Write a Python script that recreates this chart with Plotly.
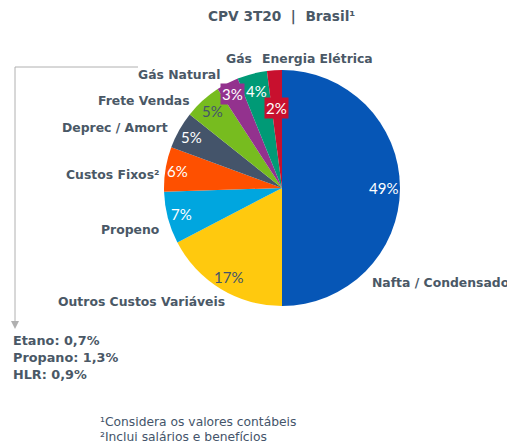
import math
import plotly.graph_objects as go

# ---- data ----
categories = ["Nafta / Condensado", "Outros Custos Variáveis", "Propeno", "Custos Fixos²",
              "Deprec / Amort", "Frete Vendas", "Gás Natural", "Gás", "Energia Elétrica"]
values = [49, 17, 7, 6, 5, 5, 3, 4, 2]
pct_labels = ["49%", "17%", "7%", "6%", "5%", "5%", "3%", "4%", "2%"]
side_notes = ["Etano: 0,7%", "Propano: 1,3%", "HLR: 0,9%"]
footnotes = ["¹Considera os valores contábeis", "²Inclui salários e benefícios"]

# ---- style ----
PAGE_W, PAGE_H = 515, 447
OFF = 8  # page body margin
W, H = PAGE_W - OFF, PAGE_H - OFF
colors = ["#0656b6", "#ffc90e", "#00a6df", "#fe5000", "#44546a",
          "#77bc1f", "#93328e", "#009a76", "#c8102e"]
pct_font_colors = ["white", "#44546a", "white", "white", "white", "#44546a", "white", "white", "white"]
pct_bg = [None, None, None, None, None, None, "#93328e", None, "#c8102e"]
pct_radius = [0.86, 0.88, 0.88, 0.90, 0.88, 0.88, 0.90, 0.85, 0.68]
txt = "#4a5866"
cx, cy, R = 282, 188, 118

def px(x):
    return (x - OFF) / W

def py(y):
    return 1 - (y - OFF) / H

fig = go.Figure(go.Pie(
    labels=categories, values=values, sort=False, direction="clockwise", rotation=0,
    marker=dict(colors=colors, line=dict(width=0)),
    textinfo="none", hoverinfo="label+percent", showlegend=False,
    domain=dict(x=[px(cx - R), px(cx + R)], y=[py(cy + R), py(cy - R)]),
))

annotations = []
# percentage labels placed from the data's cumulative angles
total = sum(values)
cum = 0
for v, lab, fc, bg, rf in zip(values, pct_labels, pct_font_colors, pct_bg, pct_radius):
    mid = (cum + v / 2) / total * 2 * math.pi
    cum += v
    x = cx + rf * R * math.sin(mid)
    y = cy - rf * R * math.cos(mid)
    a = dict(x=px(x), y=py(y), xref="paper", yref="paper", text=lab, showarrow=False,
             font=dict(family="Lato", size=15, color=fc), xanchor="center", yanchor="middle")
    if bg:
        a.update(bgcolor=bg, borderpad=1)
    annotations.append(a)

# category labels (x, y, anchor)
cat_pos = [(370, 282, "left"), (227, 301, "right"), (161, 229, "right"), (161, 174, "right"),
           (170, 128, "right"), (192, 100, "right"), (222, 75, "right"), (254, 58, "right"),
           (260, 58, "left")]
for lab, (x, y, anc) in zip(categories, cat_pos):
    annotations.append(dict(x=px(x), y=py(y), xref="paper", yref="paper", text="<b>%s</b>" % lab,
                            showarrow=False, xanchor=anc, yanchor="middle",
                            font=dict(family="DejaVu Sans", size=12.4, color=txt)))

# side notes
for i, s in enumerate(side_notes):
    annotations.append(dict(x=px(11), y=py(340 + 17 * i), xref="paper", yref="paper",
                            text="<b>%s</b>" % s, showarrow=False, xanchor="left", yanchor="middle",
                            font=dict(family="DejaVu Sans", size=12.8, color=txt)))

# footnotes
for i, s in enumerate(footnotes):
    annotations.append(dict(x=px(98), y=py(422 + 15 * i), xref="paper", yref="paper",
                            text=s, showarrow=False, xanchor="left", yanchor="middle",
                            font=dict(family="DejaVu Sans", size=12.3, color="#44546a")))

# title
annotations.append(dict(x=px(281), y=py(17), xref="paper", yref="paper",
                        text="<b>CPV 3T20  |  Brasil¹</b>", showarrow=False,
                        xanchor="center", yanchor="middle",
                        font=dict(family="DejaVu Sans", size=13.7, color=txt)))

shapes = [
    dict(type="line", xref="paper", yref="paper", x0=px(15), y0=py(67), x1=px(138), y1=py(67),
         line=dict(color="#b0b0b0", width=1)),
    dict(type="line", xref="paper", yref="paper", x0=px(15), y0=py(67), x1=px(15), y1=py(322),
         line=dict(color="#b0b0b0", width=1)),
    dict(type="path", xref="paper", yref="paper",
         path="M %f %f L %f %f L %f %f Z" % (px(11), py(321), px(19), py(321), px(15), py(329)),
         fillcolor="#b0b0b0", line=dict(width=0)),
]

fig.update_layout(width=W, height=H, margin=dict(l=0, r=0, t=0, b=0),
                  paper_bgcolor="white", plot_bgcolor="white",
                  annotations=annotations, shapes=shapes)
fig.write_html("out.html")
